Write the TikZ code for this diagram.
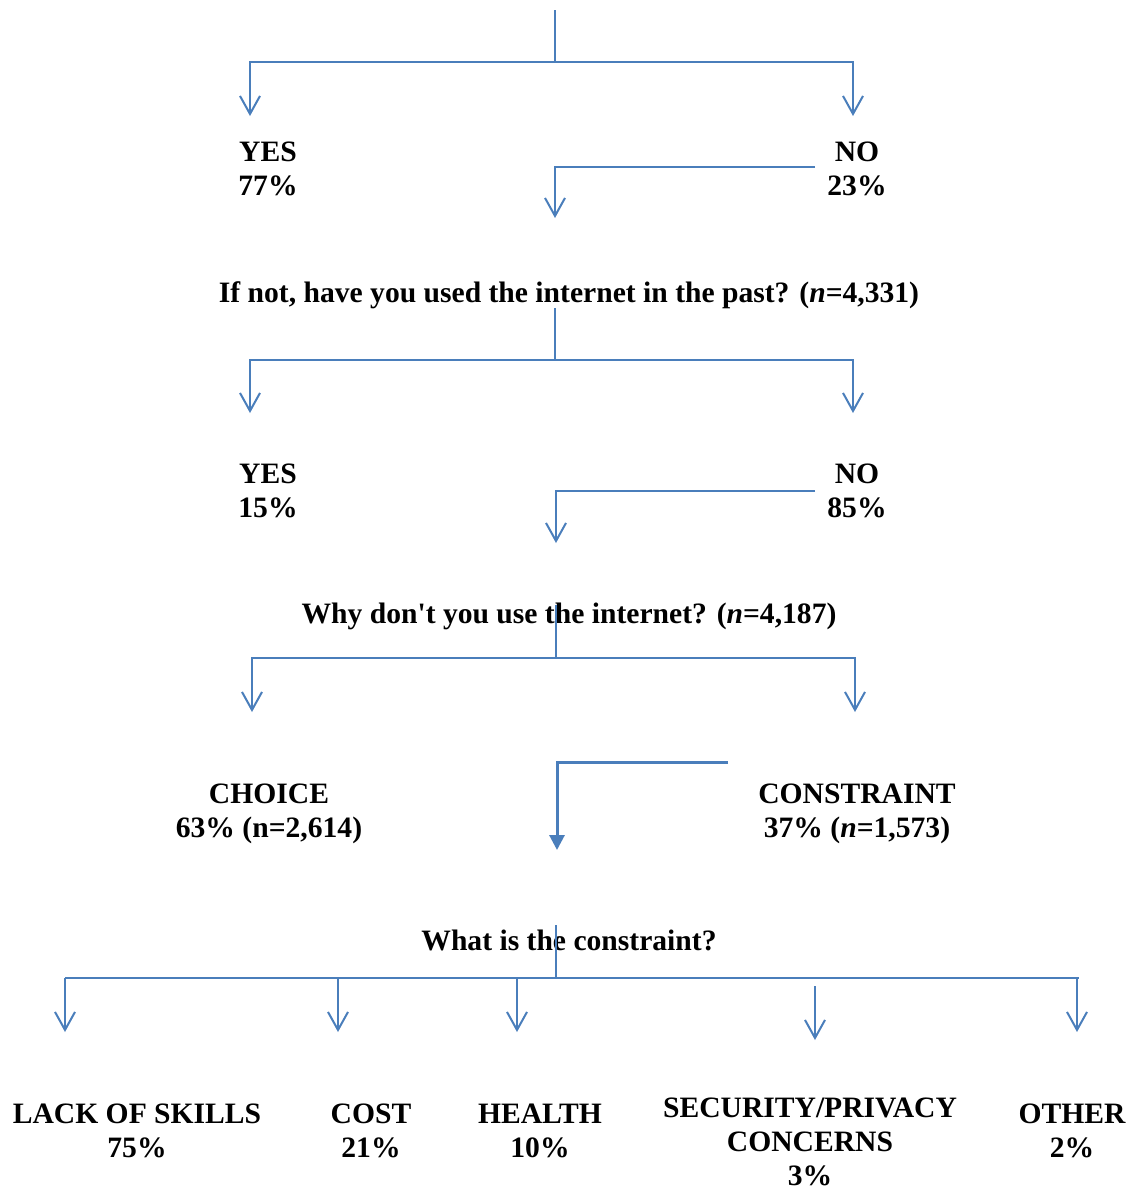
\documentclass[tikz,border=0pt]{standalone}
\usepackage{fontspec}
\setmainfont{Liberation Serif}
\usetikzlibrary{arrows.meta}
\definecolor{linkblue}{RGB}{74,126,187}

\begin{document}
\begin{tikzpicture}[x=0.5pt,y=-0.5pt,
    link/.style={linkblue,line width=1pt},
    arr/.style={link,-{Straight Barb[length=9pt,width=10pt]}},
    bigarr/.style={linkblue,line width=1.5pt,-{Triangle[length=7.5pt,width=7.5pt]}},
    lbl/.style={font=\fontsize{14.8}{17}\selectfont\bfseries,align=center,inner sep=0pt}]
  \useasboundingbox (0,0) rectangle (1133,1190);

  % answers and questions
  \node[lbl] (yes1) at (268,169) {YES\\77\%};
  \node[lbl] (no1) at (857,169) {NO\\23\%};
  \node[lbl] (q1) at (569,295) {If not, have you used the internet in the past? (\textit{n}=4,331)};
  \node[lbl] (yes2) at (268,491) {YES\\15\%};
  \node[lbl] (no2) at (857,491) {NO\\85\%};
  \node[lbl] (q2) at (569,616) {Why don\textquotesingle t you use the internet? (\textit{n}=4,187)};
  \node[lbl] (choice) at (269,814) {CHOICE\\63\% (n=2,614)};
  \node[lbl] (constr) at (857,814) {CONSTRAINT\\37\% (\textit{n}=1,573)};
  \node[lbl] (q3) at (569,940) {What is the constraint?};
  \node[lbl] (skills) at (137,1131) {LACK OF SKILLS\\75\%};
  \node[lbl] (cost) at (371,1131) {COST\\21\%};
  \node[lbl] (health) at (540,1131) {HEALTH\\10\%};
  \node[lbl] (secur) at (810,1142) {SECURITY/PRIVACY\\CONCERNS\\3\%};
  \node[lbl] (other) at (1072,1131) {OTHER\\2\%};

  % free ends of the connectors
  \coordinate (top) at (555,10);
  \coordinate (s1) at (555,62);
  \coordinate (yes1in) at (250,116);
  \coordinate (no1in) at (853,116);
  \coordinate (no1out) at (815,167);
  \coordinate (q1in) at (555,218);
  \coordinate (q1out) at (555,308);
  \coordinate (s2) at (555,360);
  \coordinate (yes2in) at (250,413);
  \coordinate (no2in) at (853,413);
  \coordinate (no2out) at (815,491);
  \coordinate (q2in) at (556,543);
  \coordinate (q2out) at (556,605);
  \coordinate (s3) at (556,658);
  \coordinate (choicein) at (252,712);
  \coordinate (constrin) at (855,712);
  \coordinate (constrout) at (728,762);
  \coordinate (q3in) at (557,850);
  \coordinate (q3out) at (556,925);
  \coordinate (s4) at (556,978);
  \coordinate (s4l) at (65,978);
  \coordinate (s4r) at (1079,978);

  \draw[link] (top) -- (s1);
  \draw[arr] (s1) -| (yes1in);
  \draw[arr] (s1) -| (no1in);
  \draw[arr] (no1out) -| (q1in);

  \draw[link] (q1out) -- (s2);
  \draw[arr] (s2) -| (yes2in);
  \draw[arr] (s2) -| (no2in);
  \draw[arr] (no2out) -| (q2in);

  \draw[link] (q2out) -- (s3);
  \draw[arr] (s3) -| (choicein);
  \draw[arr] (s3) -| (constrin);
  \draw[bigarr] (constrout) -| (q3in);

  \draw[link] (q3out) -- (s4);
  \draw[link] (s4l) -- (s4r);
  \draw[arr] (s4l) -- (65,1032);
  \draw[arr] (338,978) -- (338,1032);
  \draw[arr] (517,978) -- (517,1032);
  \draw[arr] (815,986) -- (815,1040);
  \draw[arr] (1077,978) -- (1077,1032);
\end{tikzpicture}
\end{document}
